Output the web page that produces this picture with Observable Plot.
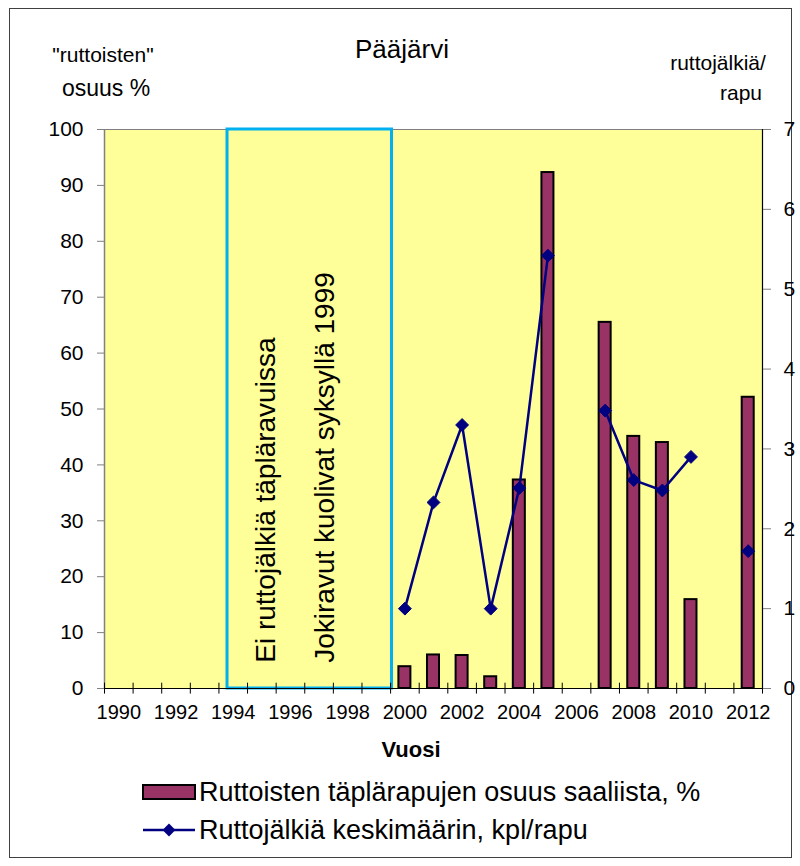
<!DOCTYPE html>
<html>
<head>
<meta charset="utf-8">
<script src="https://cdn.jsdelivr.net/npm/d3@7"></script>
<script src="https://cdn.jsdelivr.net/npm/@observablehq/plot@0.6"></script>
<style>
  html, body { margin: 0; padding: 0; background: white; }
  svg { display: block; }
</style>
</head>
<body>
<div id="chart"></div>
<script>
// ---- data ----
const years = [2000, 2001, 2002, 2003, 2004, 2005, 2006, 2007, 2008, 2009, 2010, 2011, 2012];
const infectedShare = [3.9, 6.0, 5.9, 2.1, 37.3, 92.3, null, 65.5, 45.1, 44.0, 15.9, null, 52.1]; // %
const tracesPerCrayfish = [1.0, 2.33, 3.3, 1.0, 2.51, 5.42, null, 3.48, 2.61, 2.48, 2.9, null, 1.72]; // kpl/rapu
const labelYears = [1990, 1992, 1994, 1996, 1998, 2000, 2002, 2004, 2006, 2008, 2010, 2012];
const leftTicks = [0, 10, 20, 30, 40, 50, 60, 70, 80, 90, 100];
const rightTicks = [0, 1, 2, 3, 4, 5, 6, 7];
const noDataSpan = [{from: 1993.8, to: 1999.55}];
const notes = [
  {text: "Ei ruttojälkiä täpläravuissa", year: 1995.15},
  {text: "Jokiravut kuolivat syksyllä 1999", year: 1997.2}
];
const titleText = "Pääjärvi";
const leftTitle = ["\"ruttoisten\"", "osuus %"];
const rightTitle = ["ruttojälkiä/", "rapu"];
const xTitle = "Vuosi";
const legendBar = "Ruttoisten täplärapujen osuus saaliista, %";
const legendLine = "Ruttojälkiä keskimäärin, kpl/rapu";

// ---- derived tables ----
const RIGHT_MAX = 7;
const toLeft = v => v * 100 / RIGHT_MAX;
const barData = years.map((y, i) => ({year: y, share: infectedShare[i]})).filter(d => d.share != null);
const lineData = years.map((y, i) => ({year: y, trace: tracesPerCrayfish[i]}));
const dotData = lineData.filter(d => d.trace != null);
const boundaries = d3.range(1989.5, 2013, 1);

const FONT = "Liberation Sans, Arial, sans-serif";
const BAR_HALF = 0.21;

const chart = Plot.plot({
  width: 800,
  height: 866,
  marginLeft: 104,
  marginRight: 38,
  marginTop: 129,
  marginBottom: 178,
  style: {fontFamily: FONT, fontSize: "20px", background: "white", color: "black"},
  x: {domain: [1989.5, 2012.5]},
  y: {domain: [0, 100]},
  marks: [
    Plot.frame({fill: "#FFFF99", stroke: "#808080"}),
    Plot.rect(noDataSpan, {x1: "from", x2: "to", y1: 0, y2: 100, fill: "none", stroke: "#00B0F0", strokeWidth: 3}),
    Plot.text(notes, {x: "year", y: 4.6, text: "text", rotate: -90, textAnchor: "start", lineAnchor: "middle", fontSize: 28, fill: "black"}),
    Plot.rectY(barData, {x1: d => d.year - BAR_HALF, x2: d => d.year + BAR_HALF, y: "share", fill: "#993366", stroke: "black", strokeWidth: 2}),
    Plot.ruleX([1989.5], {stroke: "#808080", strokeWidth: 1.5}),
    Plot.ruleX([2012.5], {stroke: "black", strokeWidth: 1.2}),
    Plot.ruleY([0], {stroke: "black", strokeWidth: 1.2}),
    Plot.ruleX(boundaries, {y1: -1.0, y2: 0.95, stroke: "black"}),
    Plot.line(lineData, {x: "year", y: d => d.trace == null ? NaN : toLeft(d.trace), stroke: "#000080", strokeWidth: 2.5}),
    Plot.dot(dotData, {x: "year", y: d => toLeft(d.trace), symbol: "diamond2", r: 5.8, fill: "#000080", stroke: "#000080", strokeWidth: 1}),
    Plot.axisX({ticks: labelYears, tickSize: 0, tickPadding: 16, tickFormat: d => String(d), fontSize: 20, label: null}),
    Plot.axisY({ticks: leftTicks, tickSize: 7, tickPadding: 14, fontSize: 21, label: null, stroke: "#808080"}),
    Plot.axisY({anchor: "right", ticks: rightTicks.map(toLeft), tickFormat: (d, i) => String(rightTicks[i]), tickSize: 8, tickPadding: 13, fontSize: 21, label: null, stroke: "#808080"})
  ]
});

document.getElementById("chart").appendChild(chart);

// ---- surrounding texts, legend and outer frame ----
const svg = d3.select(chart);
svg.insert("rect", ":first-child")
  .attr("x", 9.5).attr("y", 8.5).attr("width", 782).attr("height", 849)
  .attr("fill", "white").attr("stroke", "#404040").attr("stroke-width", 1);

function addText(str, x, y, size, anchor, weight) {
  svg.append("text")
    .attr("x", x).attr("y", y)
    .attr("text-anchor", anchor || "middle")
    .attr("font-family", FONT)
    .attr("font-size", size)
    .attr("font-weight", weight || "normal")
    .attr("fill", "black")
    .text(str);
}
addText(titleText, 402, 58, 26);
addText(leftTitle[0], 103, 62, 21);
addText(leftTitle[1], 106, 96, 23);
addText(rightTitle[0], 718, 70, 21);
addText(rightTitle[1], 741, 100, 21);
addText(xTitle, 411, 757, 22, "middle", "bold");

// legend
svg.append("rect").attr("x", 143).attr("y", 785).attr("width", 52).attr("height", 14)
  .attr("fill", "#993366").attr("stroke", "black").attr("stroke-width", 2);
addText(legendBar, 199, 801, 27, "start");
svg.append("line").attr("x1", 143).attr("x2", 195).attr("y1", 830).attr("y2", 830)
  .attr("stroke", "#000080").attr("stroke-width", 2.5);
svg.append("path").attr("d", d3.symbol(d3.symbolDiamond2, Math.PI * 5.8 * 5.8)())
  .attr("transform", "translate(169,830)").attr("fill", "#000080");
addText(legendLine, 199, 839, 27, "start");
</script>
</body>
</html>
